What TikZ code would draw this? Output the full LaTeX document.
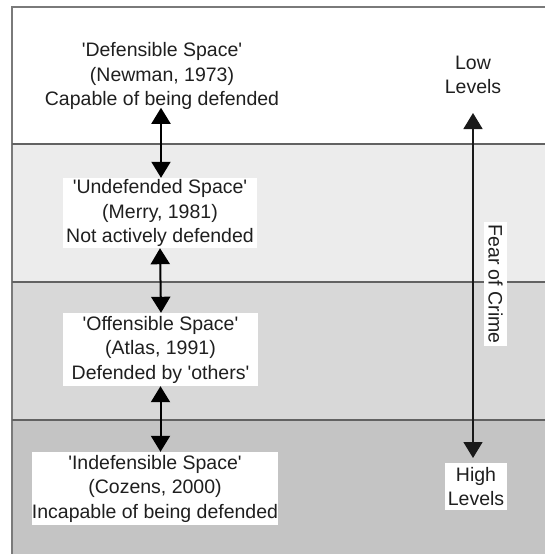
\documentclass[tikz,border=0pt]{standalone}
\usepackage{fontspec}
\setmainfont{Liberation Sans}
\usetikzlibrary{arrows.meta}
\definecolor{bandA}{HTML}{FFFFFF}
\definecolor{bandB}{HTML}{ECECEC}
\definecolor{bandC}{HTML}{D8D8D8}
\definecolor{bandD}{HTML}{C4C4C4}
\definecolor{frameline}{HTML}{7A7A7A}
\newcommand{\sq}{\textquotesingle}
\tikzset{
  lbl/.style={align=center, font=\fontsize{19.5}{24.5}\selectfont, inner sep=0pt, text=black!88},
  wbox/.style={lbl, fill=white, minimum height=#1},
  bigarrow/.style={{Triangle[width=19pt,length=16pt]}-{Triangle[width=19pt,length=16pt]}, line width=2pt, black},
  thinarrow/.style={{Triangle[width=19pt,length=16pt]}-{Triangle[width=19pt,length=16pt]}, line width=1.5pt, black!90},
}
\begin{document}
\begin{tikzpicture}[x=1pt,y=-1pt]
\useasboundingbox (0,0) rectangle (545,554);
% bands
\fill[bandA] (12,7) rectangle (545,144);
\fill[bandB] (12,144) rectangle (545,282);
\fill[bandC] (12,282) rectangle (545,420);
\fill[bandD] (12,420) rectangle (545,554);
\draw[frameline, line width=1.5pt] (12,554) -- (12,7) -- (545,7);
\draw[frameline!80!black, line width=1.2pt] (12,144) -- (545,144);
\draw[frameline!80!black, line width=1.2pt] (12,282) -- (545,282);
\draw[frameline!80!black, line width=1.2pt] (12,420) -- (545,420);
% left column
\node[lbl] (t1) at (162,76) {\sq Defensible Space\sq\\(Newman, 1973)\\Capable of being defended};
\node[wbox=70pt, minimum width=194pt] (t2) at (160,213) {\sq Undefended Space\sq\\(Merry, 1981)\\Not actively defended};
\node[wbox=73pt, minimum width=195pt] (t3) at (160.5,349.5) {\sq Offensible Space\sq\\(Atlas, 1991)\\Defended by \sq others\sq};
\node[wbox=73pt, minimum width=244pt] (t4) at (155,488.5) {\sq Indefensible Space\sq\\(Cozens, 2000)\\Incapable of being defended};
\draw[bigarrow] ([xshift=-1pt,yshift=2pt]t1.south) -- ([xshift=1pt]t2.north);
\draw[bigarrow] (t2.south) -- ([xshift=0.5pt]t3.north);
\draw[bigarrow] (t3.south) -- ([xshift=5.5pt]t4.north);
% right column
\node[lbl] (low) at (473,75) {Low\\Levels};
\node[wbox=47pt, minimum width=62pt] (high) at (476,486.5) {High\\Levels};
\coordinate (lowtip) at (473,113);
\coordinate (hightip) at (473,458);
\draw[thinarrow] (lowtip) -- (hightip);
\node[lbl, fill=white, rotate=-90, minimum height=23pt, minimum width=124pt] (fear) at (495.5,284) {Fear of Crime};
\end{tikzpicture}
\end{document}
